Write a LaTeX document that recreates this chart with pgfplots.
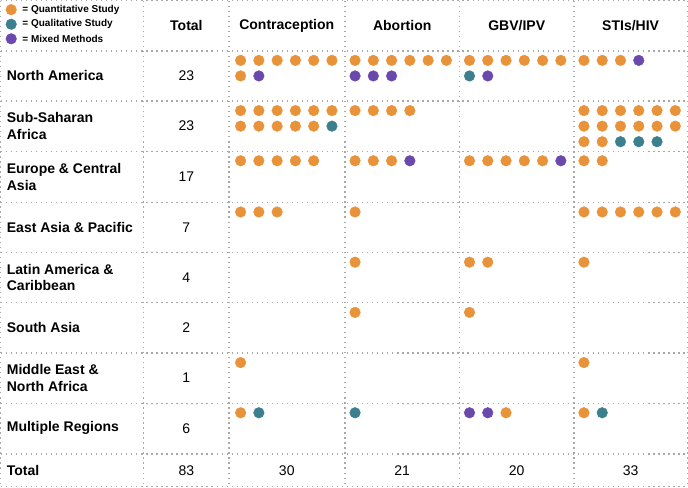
\documentclass[border=0pt]{standalone}
\usepackage{pgfplots}
\pgfplotsset{compat=1.18}
\usepackage{fontspec}
\setmainfont{Liberation Sans}
\definecolor{quant}{HTML}{E8923A}
\definecolor{qual}{HTML}{3C7F8D}
\definecolor{mixed}{HTML}{6B48AB}
\definecolor{gridc}{HTML}{A8A8A8}
\begin{document}
\begin{tikzpicture}
\begin{axis}[
  width=688bp, height=488bp, scale only axis,
  xmin=0, xmax=688, ymin=0, ymax=488, y dir=reverse,
  hide axis, clip=false,
  grid line/.style={gridc, line width=1.3bp, dash pattern=on 1.3bp off 3.7bp, forget plot},
  dotq/.style={only marks, mark=*, mark size=5.3bp, color=quant, mark options={draw=quant, fill=quant}},
  dotl/.style={only marks, mark=*, mark size=5.3bp, color=qual, mark options={draw=qual, fill=qual}},
  dotm/.style={only marks, mark=*, mark size=5.3bp, color=mixed, mark options={draw=mixed, fill=mixed}},
]
% ---- grid: horizontal lines
\addplot[grid line] coordinates {(2,2)(686,2)};
\addplot[grid line] coordinates {(2,52)(686,52)};
\addplot[grid line] coordinates {(2,102)(686,102)};
\addplot[grid line] coordinates {(2,152)(686,152)};
\addplot[grid line] coordinates {(2,203)(686,203)};
\addplot[grid line] coordinates {(2,253)(686,253)};
\addplot[grid line] coordinates {(2,303)(686,303)};
\addplot[grid line] coordinates {(2,353)(686,353)};
\addplot[grid line] coordinates {(2,403)(686,403)};
\addplot[grid line] coordinates {(2,453.5)(686,453.5)};
\addplot[grid line] coordinates {(2,486)(686,486)};
% ---- grid: vertical lines
\addplot[grid line] coordinates {(2,2)(2,486)};
\addplot[grid line] coordinates {(144.5,2)(144.5,486)};
\addplot[grid line] coordinates {(229.5,2)(229.5,486)};
\addplot[grid line] coordinates {(345,2)(345,486)};
\addplot[grid line] coordinates {(459,2)(459,486)};
\addplot[grid line] coordinates {(573,2)(573,486)};
\addplot[grid line] coordinates {(686,2)(686,486)};

% ---- Quantitative (orange)
\addplot[dotq] coordinates {
 % North America
 (241,61.5)(259.2,61.5)(277.4,61.5)(295.6,61.5)(313.8,61.5)(332,61.5)(241,77)
 (355,61.5)(373.2,61.5)(391.4,61.5)(409.6,61.5)(427.8,61.5)(446,61.5)
 (469,61.5)(487.2,61.5)(505.4,61.5)(523.6,61.5)(541.8,61.5)(560,61.5)
 (583,61.5)(601.2,61.5)(619.4,61.5)
 % Sub-Saharan Africa
 (241,111.5)(259.2,111.5)(277.4,111.5)(295.6,111.5)(313.8,111.5)(332,111.5)
 (241,127)(259.2,127)(277.4,127)(295.6,127)(313.8,127)
 (355,111.5)(373.2,111.5)(391.4,111.5)(409.6,111.5)
 (583,111.5)(601.2,111.5)(619.4,111.5)(637.6,111.5)(655.8,111.5)(674,111.5)
 (583,127)(601.2,127)(619.4,127)(637.6,127)(655.8,127)(674,127)
 (583,142.5)(601.2,142.5)
 % Europe & Central Asia
 (241,161.5)(259.2,161.5)(277.4,161.5)(295.6,161.5)(313.8,161.5)
 (355,161.5)(373.2,161.5)(391.4,161.5)
 (469,161.5)(487.2,161.5)(505.4,161.5)(523.6,161.5)(541.8,161.5)
 (583,161.5)(601.2,161.5)
 % East Asia & Pacific
 (241,212.5)(259.2,212.5)(277.4,212.5)
 (355,212.5)
 (583,212.5)(601.2,212.5)(619.4,212.5)(637.6,212.5)(655.8,212.5)(674,212.5)
 % Latin America & Caribbean
 (355,262.5)
 (469,262.5)(487.2,262.5)
 (583,262.5)
 % South Asia
 (355,312.5)
 (469,312.5)
 % Middle East & North Africa
 (241,362.5)
 (583,362.5)
 % Multiple Regions
 (241,412.5)
 (505.4,412.5)
 (583,412.5)
};
% ---- Qualitative (teal)
\addplot[dotl] coordinates {
 (469,77)
 (332,127)
 (619.4,142.5)(637.6,142.5)(655.8,142.5)
 (259.2,412.5)(355,412.5)(601.2,412.5)
};
% ---- Mixed methods (purple)
\addplot[dotm] coordinates {
 (259.2,77)(355,77)(373.2,77)(391.4,77)(487.2,77)(637.6,61.5)
 (409.6,161.5)(560,161.5)
 (469,412.5)(487.2,412.5)
};
% ---- legend dots
\addplot[dotq] coordinates {(12.5,11)};
\addplot[dotl] coordinates {(12.5,25.5)};
\addplot[dotm] coordinates {(12.5,40)};

% ---- legend text
\begin{scope}[every node/.style={anchor=west, inner sep=0pt, font=\bfseries\fontsize{10}{12}\selectfont}]
\node at (axis cs:23.5,11) {= Quantitative Study};
\node at (axis cs:23.5,25.5) {= Qualitative Study};
\node at (axis cs:23.5,40) {= Mixed Methods};
\end{scope}

% ---- headers
\begin{scope}[every node/.style={anchor=center, inner sep=0pt, font=\bfseries\fontsize{14}{16.5}\selectfont}]
\node at (axis cs:187,27) {Total};
\node at (axis cs:287,27) {Contraception};
\node at (axis cs:402,27) {Abortion};
\node at (axis cs:516,27) {GBV/IPV};
\node at (axis cs:629.5,27) {STIs/HIV};
\end{scope}

% ---- row labels
\begin{scope}[every node/.style={anchor=west, inner sep=0pt, align=left, font=\bfseries\fontsize{14}{16.5}\selectfont}]
\node at (axis cs:8,77) {North America};
\node at (axis cs:8,127) {Sub-Saharan\\Africa};
\node at (axis cs:8,177.5) {Europe \& Central\\Asia};
\node at (axis cs:8,228) {East Asia \& Pacific};
\node at (axis cs:8,278) {Latin America \&\\Caribbean};
\node at (axis cs:8,328) {South Asia};
\node at (axis cs:8,378) {Middle East \&\\North Africa};
\node at (axis cs:8,428) {Multiple Regions};
\node at (axis cs:8,470) {Total};
\end{scope}

% ---- totals
\begin{scope}[every node/.style={anchor=center, inner sep=0pt, font=\fontsize{14}{16.5}\selectfont}]
\node at (axis cs:187,77) {23};
\node at (axis cs:187,127) {23};
\node at (axis cs:187,177.5) {17};
\node at (axis cs:187,228) {7};
\node at (axis cs:187,278) {4};
\node at (axis cs:187,328) {2};
\node at (axis cs:187,378) {1};
\node at (axis cs:187,428) {6};
\node at (axis cs:187,470) {83};
\node at (axis cs:287,470) {30};
\node at (axis cs:402,470) {21};
\node at (axis cs:516,470) {20};
\node at (axis cs:629.5,470) {33};
\end{scope}
\end{axis}
\end{tikzpicture}
\end{document}
